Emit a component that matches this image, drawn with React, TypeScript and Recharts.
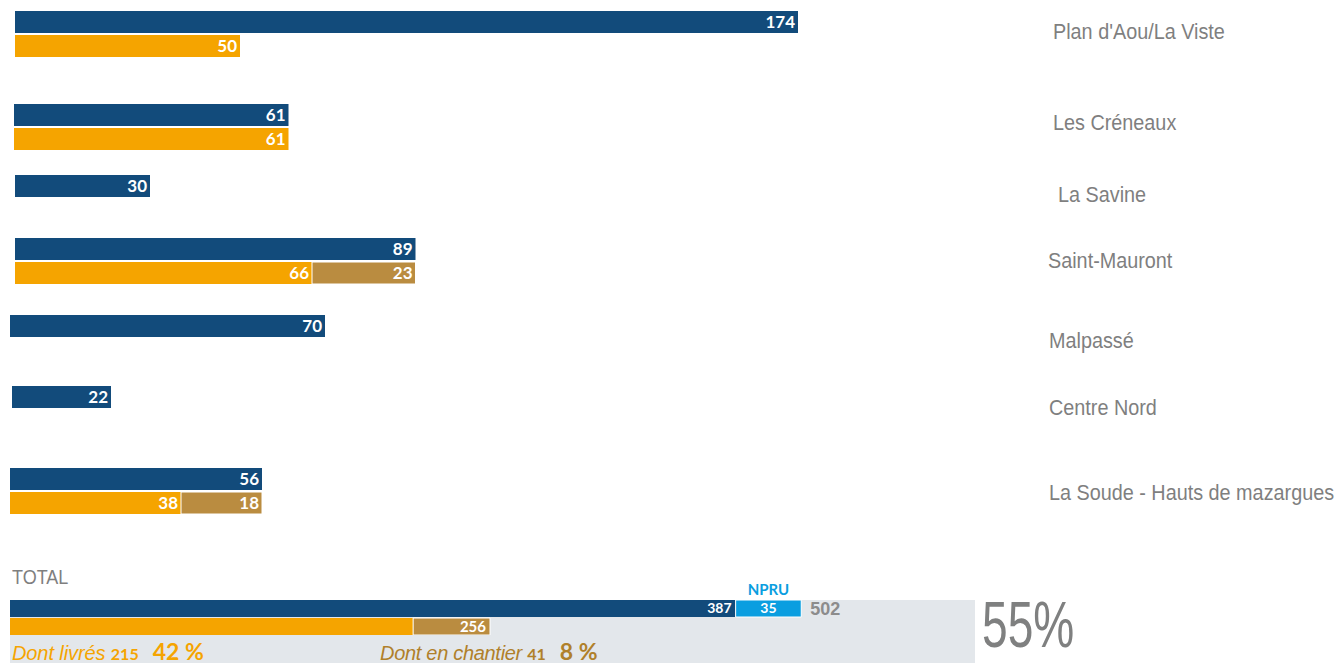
import React from 'react';
import { BarChart, Bar, XAxis, YAxis, LabelList } from 'recharts';

const COLORS = {
  blue: '#124B7B',
  orange: '#F5A400',
  tan: '#BA8C40',
  npru: '#0A9EE0',
  gray: '#7F7F7F',
  panel: '#E3E7EB',
  tanText: '#B0802A',
};

const SANS = "'Liberation Sans', Arial, sans-serif";
const BOLD = "Lato, 'Open Sans', sans-serif";

// quartiers
const SITES = [
  "Plan d'Aou/La Viste",
  'Les Créneaux',
  'La Savine',
  'Saint-Mauront',
  'Malpassé',
  'Centre Nord',
  'La Soude - Hauts de mazargues',
];
const TOTAL_LOGEMENTS = [174, 61, 30, 89, 70, 22, 56];
const LIVRES = [50, 61, null, 66, null, null, 38];
const EN_CHANTIER = [null, null, null, 23, null, null, 18];

// total
const TOTAL_ACTIONS = 387;
const TOTAL_NPRU = 35;
const OBJECTIF = 502;
const TOTAL_LIVRES = 215;
const TOTAL_CHANTIER = 41;
const LIVRES_ET_CHANTIER = 256;
const PCT_LIVRES = 42;
const PCT_CHANTIER = 8;
const PCT_GLOBAL = 55;

// placement of each group on the page
const ROW_LAYOUT = [
  { top: 11, left: 15, labelX: 1053, labelY: 32 },
  { top: 104, left: 14, labelX: 1053, labelY: 123 },
  { top: 175, left: 15, labelX: 1058, labelY: 195 },
  { top: 238, left: 15, labelX: 1048, labelY: 261 },
  { top: 315, left: 10, labelX: 1049, labelY: 341 },
  { top: 386, left: 12, labelX: 1049, labelY: 408 },
  { top: 468, left: 10, labelX: 1049, labelY: 493 },
];

const valueLabel = { fill: '#fff', fontSize: 17, fontWeight: 700, fontFamily: BOLD };

// narrow look: Arial-metric font squeezed horizontally
const narrow = (scale: number): React.CSSProperties => ({
  fontFamily: SANS,
  transform: `scaleX(${scale})`,
  transformOrigin: 'left center',
  whiteSpace: 'nowrap',
});

const SiteChart = ({ i }: { i: number }) => {
  const rows: any[] = [{ key: 'total', total: TOTAL_LOGEMENTS[i] }];
  if (LIVRES[i] != null) {
    rows.push({ key: 'split', livres: LIVRES[i], chantier: EN_CHANTIER[i] ?? undefined });
  }
  const pos = ROW_LAYOUT[i];
  return (
    <div style={{ position: 'absolute', left: pos.left, top: pos.top - 1 }}>
      <BarChart
        layout="vertical"
        width={900}
        height={rows.length * 24}
        data={rows}
        margin={{ top: 0, right: 0, bottom: 0, left: 0 }}
      >
        <XAxis type="number" domain={[0, 200]} hide />
        <YAxis type="category" dataKey="key" hide />
        <Bar dataKey="total" stackId="s" fill={COLORS.blue} barSize={22} isAnimationActive={false}>
          <LabelList dataKey="total" position="insideRight" offset={3} style={valueLabel} />
        </Bar>
        <Bar dataKey="livres" stackId="s" fill={COLORS.orange} barSize={22} isAnimationActive={false}>
          <LabelList dataKey="livres" position="insideRight" offset={3} style={valueLabel} />
        </Bar>
        <Bar dataKey="chantier" stackId="s" fill={COLORS.tan} stroke="#fff" strokeWidth={1} barSize={22} isAnimationActive={false}>
          <LabelList dataKey="chantier" position="insideRight" offset={3} style={valueLabel} />
        </Bar>
      </BarChart>
    </div>
  );
};

const totalRows = [
  { key: 'actions', actions: TOTAL_ACTIONS, npru: TOTAL_NPRU, objectif: OBJECTIF, tag: 'NPRU' },
  { key: 'livraisons', livres: TOTAL_LIVRES, chantier: TOTAL_CHANTIER, cumul: LIVRES_ET_CHANTIER },
];

const TotalChart = () => (
  <div style={{ position: 'absolute', left: 10, top: 579 }}>
    <BarChart
      layout="vertical"
      width={900}
      height={56}
      data={totalRows}
      margin={{ top: 20, right: 0, bottom: 0, left: 0 }}
    >
      <XAxis type="number" domain={[0, 480]} hide />
      <YAxis type="category" dataKey="key" hide />
      <Bar dataKey="actions" stackId="t" fill={COLORS.blue} barSize={17} isAnimationActive={false}>
        <LabelList dataKey="actions" position="insideRight" offset={4} style={{ ...valueLabel, fontSize: 14 }} />
      </Bar>
      <Bar dataKey="npru" stackId="t" fill={COLORS.npru} stroke="#fff" strokeWidth={1} barSize={17} isAnimationActive={false}>
        <LabelList dataKey="npru" position="center" style={{ ...valueLabel, fontSize: 14 }} />
        <LabelList dataKey="tag" position="top" offset={5} style={{ fill: COLORS.npru, fontSize: 15, fontWeight: 700, fontFamily: BOLD }} />
        <LabelList dataKey="objectif" position="right" offset={9} style={{ fill: '#8C8C8C', fontSize: 18, fontWeight: 700, fontFamily: SANS }} />
      </Bar>
      <Bar dataKey="livres" stackId="t" fill={COLORS.orange} barSize={17} isAnimationActive={false} />
      <Bar dataKey="chantier" stackId="t" fill={COLORS.tan} stroke="#fff" strokeWidth={1} barSize={17} isAnimationActive={false}>
        <LabelList dataKey="cumul" position="insideRight" offset={4} style={{ ...valueLabel, fontSize: 15 }} />
      </Bar>
    </BarChart>
  </div>
);

export default function App() {
  return (
    <div style={{ position: 'absolute', left: 0, top: 0, width: 1341, height: 663, background: '#fff', overflow: 'hidden' }}>
      {SITES.map((s, i) => (
        <SiteChart key={s} i={i} />
      ))}
      {SITES.map((s, i) => (
        <div
          key={'l' + s}
          style={{
            position: 'absolute',
            left: ROW_LAYOUT[i].labelX,
            top: ROW_LAYOUT[i].labelY - 13,
            fontSize: 22,
            color: COLORS.gray,
            lineHeight: '26px',
            ...narrow(0.9),
          }}
        >
          {s}
        </div>
      ))}

      <div style={{ position: 'absolute', left: 12, top: 565, fontSize: 20, color: COLORS.gray, lineHeight: '24px', ...narrow(0.9) }}>
        TOTAL
      </div>
      <div style={{ position: 'absolute', left: 10, top: 600, width: 965, height: 63, background: COLORS.panel }} />
      <TotalChart />

      <div style={{ position: 'absolute', left: 12, top: 638, whiteSpace: 'nowrap', color: COLORS.orange, lineHeight: '26px' }}>
        <span style={{ fontFamily: SANS, fontStyle: 'italic', fontSize: 20, letterSpacing: -0.1 }}>Dont livrés </span>
        <span style={{ fontFamily: BOLD, fontWeight: 700, fontSize: 16 }}>{TOTAL_LIVRES}</span>
        <span style={{ fontFamily: BOLD, fontWeight: 700, fontSize: 23, marginLeft: 14 }}>{PCT_LIVRES} %</span>
      </div>
      <div style={{ position: 'absolute', left: 380, top: 638, whiteSpace: 'nowrap', color: COLORS.tanText, lineHeight: '26px' }}>
        <span style={{ fontFamily: SANS, fontStyle: 'italic', fontSize: 20, letterSpacing: -0.3 }}>Dont en chantier </span>
        <span style={{ fontFamily: BOLD, fontWeight: 700, fontSize: 16 }}>{TOTAL_CHANTIER}</span>
        <span style={{ fontFamily: BOLD, fontWeight: 700, fontSize: 23, marginLeft: 14 }}>{PCT_CHANTIER} %</span>
      </div>
      <div style={{ position: 'absolute', left: 982, top: 588, fontSize: 64, color: '#7F8080', lineHeight: '74px', ...narrow(0.72) }}>
        {PCT_GLOBAL}%
      </div>
    </div>
  );
}
